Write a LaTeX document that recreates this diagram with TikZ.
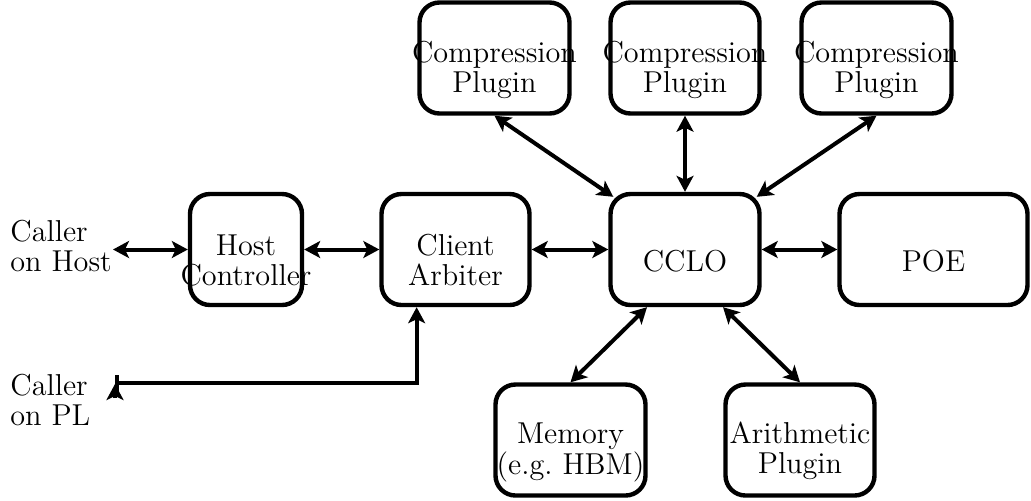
\documentclass[tikz,border=0pt]{standalone}
\usepackage{graphicx}
\usetikzlibrary{arrows.meta,calc}
\newcommand\mytx[2]{\scalebox{1.05}{\begin{tabular}[t]{@{}#1@{}}#2\end{tabular}}}
\begin{document}
\begin{tikzpicture}[x=0.5pt,y=-0.5pt,
  box/.style={draw,line width=2.2pt,rounded corners=10pt,minimum height=55.5pt,inner sep=0pt},
  lbl/.style={inner sep=0pt,font=\fontsize{14.4}{14.3}\selectfont},
  conn/.style={line width=2pt,{Stealth[length=8pt,width=8.5pt,inset=2pt]}-{Stealth[length=8pt,width=8.5pt,inset=2pt]}},
  tip/.style={line width=2pt,-{Stealth[length=8pt,width=8.5pt,inset=2pt]}}]
\useasboundingbox (0,0) rectangle (1031,500);
% boxes
\node[box,minimum width=56pt] (host) at (246,249.5) {};
\node[box,minimum width=74pt] (arb) at (455.5,249.5) {};
\node[box,minimum width=74.5pt] (cclo) at (685,249.5) {};
\node[box,minimum width=94pt] (poe) at (933.5,249.5) {};
\node[box,minimum width=75pt] (c1) at (494.5,58) {};
\node[box,minimum width=74.5pt] (c2) at (685,58) {};
\node[box,minimum width=75pt] (c3) at (876.5,58) {};
\node[box,minimum width=75pt] (mem) at (570.5,440) {};
\node[box,minimum width=74.5pt] (ari) at (800,440) {};
% texts
\node[lbl,anchor=base] (thost) at (246,255) {\mytx{c}{Host\\Controller}};
\node[lbl,anchor=base] (tarb) at (455.5,255) {\mytx{c}{Client\\Arbiter}};
\node[lbl,anchor=base] (tcclo) at (685,271) {\mytx{c}{CCLO}};
\node[lbl,anchor=base] (tpoe) at (933.5,271) {\mytx{c}{POE}};
\node[lbl,anchor=base] (tc1) at (494.5,62) {\mytx{c}{Compression\\Plugin}};
\node[lbl,anchor=base] (tc2) at (685,62) {\mytx{c}{Compression\\Plugin}};
\node[lbl,anchor=base] (tc3) at (876.5,62) {\mytx{c}{Compression\\Plugin}};
\node[lbl,anchor=base] (tmem) at (570.5,443) {\mytx{c}{Memory\\(e.g.\ HBM)}};
\node[lbl,anchor=base] (tari) at (800,443) {\mytx{c}{Arithmetic\\Plugin}};
\node[lbl,anchor=base west] (callhost) at (10,241) {\mytx{l}{Caller\\on Host}};
\node[lbl,anchor=base west] (callpl) at (10,395) {\mytx{l}{Caller\\on PL}};
% connectors
\coordinate (hostin) at (113,249.5);
\draw[conn] (hostin) -- (host.west);
\draw[conn] (host.east) -- (arb.west);
\draw[conn] (arb.east) -- (cclo.west);
\draw[conn] (cclo.east) -- (poe.west);
\draw[conn] (c1.south) -- ($(cclo.north west)+(5,5)$);
\draw[conn] (c2.south) -- (cclo.north);
\draw[conn] (c3.south) -- ($(cclo.north east)+(-5,5)$);
\draw[conn] (mem.north) -- ($(cclo.south)+(-38,0)$);
\draw[conn] (ari.north) -- ($(cclo.south)+(38,0)$);
\coordinate (plend) at (115,383);
\draw[line width=2pt,{Bar[width=8pt]}-{Stealth[length=8pt,width=8.5pt,inset=2pt]}] (plend) -| ($(arb.south west)!0.245!(arb.south east)$);
\draw[tip] ($(plend)+(0,15)$) -- ($(plend)+(0,1)$);
\end{tikzpicture}
\end{document}
